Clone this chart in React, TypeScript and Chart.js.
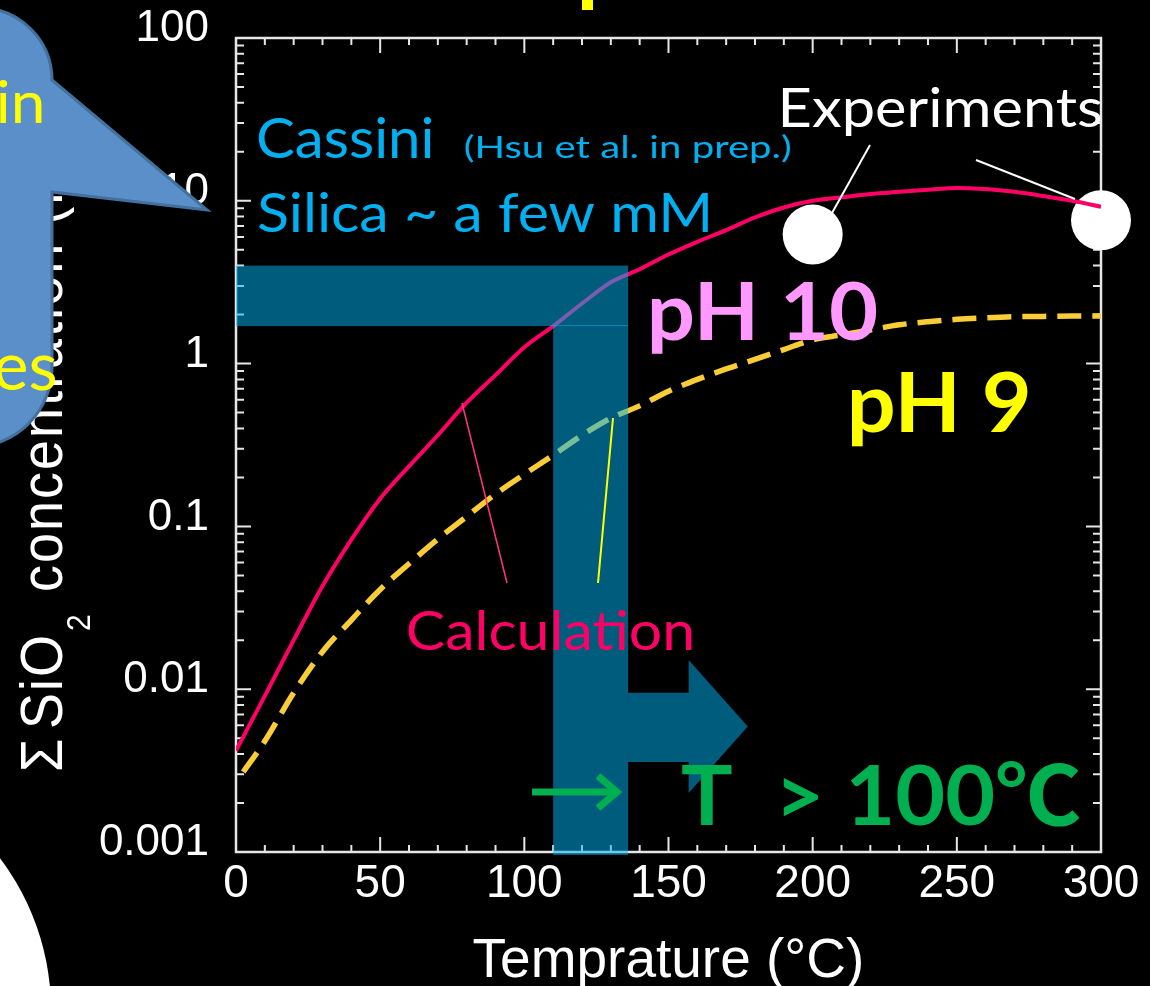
import React, { useEffect, useRef } from 'react';
import { Chart, registerables } from 'chart.js';

Chart.register(...registerables);

// ---------- data ----------
const calcTemps = [0, 10, 20, 30, 40, 50, 60, 70, 80, 90, 100, 110, 120, 130, 140, 150, 160, 170, 180, 190, 200, 210, 220, 230, 240, 250, 260, 270, 280, 290, 300];
const ph10Values = [0.0042, 0.0091, 0.020, 0.043, 0.083, 0.148, 0.234, 0.363, 0.575, 0.85, 1.26, 1.70, 2.34, 3.16, 3.80, 4.68, 5.6, 6.6, 7.9, 9.1, 10.0, 10.5, 11.0, 11.35, 11.7, 12.0, 11.8, 11.35, 10.7, 10.0, 9.2];
const ph9Temps = [2.5, 10, 20, 30, 40, 50, 60, 70, 80, 90, 100, 110, 120, 130, 140, 150, 160, 170, 180, 190, 200, 210, 220, 230, 240, 250, 260, 270, 280, 290, 300];
const ph9Values = [0.0031, 0.0048, 0.0095, 0.017, 0.0266, 0.041, 0.059, 0.0836, 0.115, 0.158, 0.209, 0.274, 0.363, 0.462, 0.55, 0.676, 0.80, 0.927, 1.06, 1.22, 1.40, 1.50, 1.61, 1.73, 1.81, 1.87, 1.91, 1.94, 1.95, 1.96, 1.96];
const expTemps = [200, 300];
const expValues = [6.2, 7.6];

const xTickValues = [0, 50, 100, 150, 200, 250, 300];
const xTickLabels = ['0', '50', '100', '150', '200', '250', '300'];
const yTickValues = [0.001, 0.01, 0.1, 1, 10, 100];
const yTickLabels = ['0.001', '0.01', '0.1', '1', '10', '100'];

const xTitle = 'Temprature (°C)';
const yTitleParts = ['Σ', 'SiO', '2', 'concentration (mM)'];

// Cassini silica range (mM) and the matching temperature range (°C)
const cassiniRange = [1.7, 4.0];
const tempRange = [110, 136];
// block arrow (data units): body end T, tip T, body y-range, head y-range
const arrowBodyEndT = 157;
const arrowTipT = 177.5;
const arrowBodyY = [0.0095, 0.00357];
const arrowHeadY = [0.0151, 0.0023];

const SANS = "'Liberation Sans', Arial, sans-serif";
const CAL = "Lato, 'Noto Sans CJK JP', sans-serif";

function drawFit(ctx: CanvasRenderingContext2D, text: string, left: number, baseline: number, inkWidth: number, capH: number, weight: string, family: string, color: string) {
  ctx.save();
  ctx.font = `${weight} 100px ${family}`;
  const capRatio = ctx.measureText('H').actualBoundingBoxAscent / 100;
  const size = capH / capRatio;
  ctx.font = `${weight} ${size}px ${family}`;
  ctx.textAlign = 'left';
  ctx.textBaseline = 'alphabetic';
  const m = ctx.measureText(text);
  const ink = m.actualBoundingBoxLeft + m.actualBoundingBoxRight;
  const sx = inkWidth / ink;
  ctx.translate(left, baseline);
  ctx.scale(sx, 1);
  ctx.fillStyle = color;
  ctx.fillText(text, m.actualBoundingBoxLeft, 0);
  ctx.restore();
}

const decor = {
  id: 'decor',
  beforeDraw(chart: any) {
    const ctx = chart.ctx;
    ctx.save();
    ctx.fillStyle = '#000000';
    ctx.fillRect(0, 0, chart.width, chart.height);
    ctx.restore();
  },
  beforeDatasetsDraw(chart: any) {
    const ctx: CanvasRenderingContext2D = chart.ctx;
    const { left, right, top, bottom } = chart.chartArea;
    const xs = chart.scales.x;
    const ys = chart.scales.y;
    ctx.save();
    ctx.strokeStyle = '#E6E6E6';
    ctx.lineWidth = 2.5;
    ctx.strokeRect(left, top, right - left, bottom - top);
    ctx.lineWidth = 2;
    ctx.beginPath();
    for (let t = 0; t <= 300; t += 10) {
      const px = xs.getPixelForValue(t);
      const len = t % 50 === 0 ? 15 : 7;
      ctx.moveTo(px, bottom); ctx.lineTo(px, bottom - len);
      ctx.moveTo(px, top); ctx.lineTo(px, top + len);
    }
    for (let k = -3; k <= 2; k++) {
      for (let m = 1; m <= 9; m++) {
        const v = m * Math.pow(10, k);
        if (v > 100.0001) break;
        const py = ys.getPixelForValue(v);
        const len = m === 1 ? 15 : 8;
        ctx.moveTo(left, py); ctx.lineTo(left + len, py);
        ctx.moveTo(right, py); ctx.lineTo(right - len, py);
      }
    }
    ctx.stroke();
    ctx.restore();
  },
  afterDraw(chart: any) {
    const ctx: CanvasRenderingContext2D = chart.ctx;
    const xs = chart.scales.x;
    const ys = chart.scales.y;
    const { left, bottom } = chart.chartArea;

    // ---- y axis title (rotated) ----
    ctx.save();
    ctx.translate(62, 0);
    ctx.rotate(-Math.PI / 2);
    ctx.scale(1, 1.11);
    ctx.fillStyle = '#FFFFFF';
    ctx.textAlign = 'left';
    ctx.textBaseline = 'alphabetic';
    (ctx as any).letterSpacing = '2px';
    const starts = [770, 727, 630, 590];
    yTitleParts.forEach((p, i) => {
      const sub = i === 2;
      ctx.font = sub ? `30px ${SANS}` : `54px ${SANS}`;
      const m = ctx.measureText(p);
      ctx.fillText(p, -starts[i] + m.actualBoundingBoxLeft, sub ? 25 : 0);
    });
    ctx.restore();

    // ---- Cassini band ----
    const band = 'rgba(0,176,240,0.52)';
    const yHi = ys.getPixelForValue(cassiniRange[1]);
    const yLo = ys.getPixelForValue(cassiniRange[0]);
    const xLo = xs.getPixelForValue(tempRange[0]);
    const xHi = xs.getPixelForValue(tempRange[1]);
    ctx.save();
    ctx.fillStyle = band;
    ctx.fillRect(left, yHi, xHi - left, yLo - yHi);
    ctx.fillRect(xLo, yLo - 1, xHi - xLo, bottom + 3 - (yLo - 1));
    // block arrow
    const bx1 = xHi;
    const bx2 = xs.getPixelForValue(arrowBodyEndT);
    const tip = xs.getPixelForValue(arrowTipT);
    const by1 = ys.getPixelForValue(arrowBodyY[0]);
    const by2 = ys.getPixelForValue(arrowBodyY[1]);
    const hy1 = ys.getPixelForValue(arrowHeadY[0]);
    const hy2 = ys.getPixelForValue(arrowHeadY[1]);
    ctx.beginPath();
    ctx.moveTo(bx1, by1);
    ctx.lineTo(bx2, by1);
    ctx.lineTo(bx2, hy1);
    ctx.lineTo(tip, (hy1 + hy2) / 2);
    ctx.lineTo(bx2, hy2);
    ctx.lineTo(bx2, by2);
    ctx.lineTo(bx1, by2);
    ctx.closePath();
    ctx.fill();
    ctx.restore();

    // ---- green arrow ----
    ctx.save();
    ctx.strokeStyle = '#00B050';
    ctx.lineWidth = 7;
    ctx.beginPath();
    ctx.moveTo(532, 792); ctx.lineTo(614, 792);
    ctx.stroke();
    ctx.beginPath();
    ctx.moveTo(598, 776); ctx.lineTo(617, 792); ctx.lineTo(598, 808);
    ctx.stroke();
    ctx.restore();

    // ---- leader lines ----
    ctx.save();
    ctx.lineWidth = 1.6;
    ctx.strokeStyle = '#FF3377';
    ctx.beginPath(); ctx.moveTo(462, 403); ctx.lineTo(507, 583); ctx.stroke();
    ctx.lineWidth = 2;
    ctx.strokeStyle = '#FFFF00';
    ctx.beginPath(); ctx.moveTo(613, 418); ctx.lineTo(598, 583); ctx.stroke();
    ctx.strokeStyle = '#FFFFFF';
    ctx.lineWidth = 2;
    ctx.beginPath(); ctx.moveTo(870, 145); ctx.lineTo(832, 213); ctx.stroke();
    ctx.beginPath(); ctx.moveTo(976, 160); ctx.lineTo(1075, 199); ctx.stroke();
    ctx.restore();

    // ---- annotation texts ----
    drawFit(ctx, 'Cassini', 258, 158, 174, 41, 'normal', CAL, '#00B0F0');
    drawFit(ctx, '(Hsu et al. in prep.)', 465, 158, 325, 23, 'normal', CAL, '#00B0F0');
    drawFit(ctx, 'Silica ~ a few mM', 258, 232, 450, 40, 'normal', CAL, '#00B0F0');
    drawFit(ctx, 'Experiments', 783, 127, 318, 40, 'normal', CAL, '#FFFFFF');
    drawFit(ctx, 'pH 10', 651, 340, 226, 58, 'bold', CAL, '#FF99FF');
    drawFit(ctx, 'pH 9', 852, 432, 176, 60, 'bold', CAL, '#FFFF00');
    drawFit(ctx, 'Calculation', 408, 650, 284, 39, 'normal', CAL, '#FF0066');
    drawFit(ctx, 'T  > 100℃', 682, 825, 398, 60, 'bold', CAL, '#00B050');

    // ---- speech bubble ----
    ctx.save();
    ctx.beginPath();
    ctx.moveTo(-40, 8);
    ctx.lineTo(-20, 8);
    ctx.arc(-20, 80, 72, -Math.PI / 2, 0);
    ctx.lineTo(207, 210);
    ctx.lineTo(52, 192);
    ctx.lineTo(52, 367);
    ctx.arc(-28, 367, 80, 0, Math.PI / 2);
    ctx.lineTo(-40, 447);
    ctx.closePath();
    ctx.fillStyle = '#5B8FC9';
    ctx.fill();
    ctx.strokeStyle = '#41719C';
    ctx.lineWidth = 3;
    ctx.stroke();
    ctx.restore();
    drawFit(ctx, 'in', -1, 123, 43, 42, 'normal', CAL, '#FFFF00');
    drawFit(ctx, 'es', -5, 390, 60, 50, 'normal', CAL, '#FFFF00');

    // ---- white shape bottom-left ----
    ctx.save();
    ctx.fillStyle = '#FFFFFF';
    ctx.beginPath();
    ctx.arc(-200, 1010, 251, 0, Math.PI * 2);
    ctx.fill();
    // title fragment at top
    ctx.fillStyle = '#FFFF00';
    ctx.fillRect(582, 0, 11, 10);
    ctx.restore();
  },
};

export default function App() {
  const ref = useRef<HTMLCanvasElement | null>(null);
  useEffect(() => {
    document.body.style.margin = '0';
    document.body.style.background = '#000';
    document.body.style.overflow = 'hidden';
    const canvas = ref.current;
    if (!canvas) return;
    const chart = new Chart(canvas, {
      type: 'line',
      data: {
        datasets: [
          {
            label: 'pH 10',
            data: calcTemps.map((t, i) => ({ x: t, y: ph10Values[i] })),
            borderColor: '#FF0066',
            borderWidth: 4,
            pointRadius: 0,
            cubicInterpolationMode: 'monotone',
            fill: false,
          },
          {
            label: 'pH 9',
            data: ph9Temps.map((t, i) => ({ x: t, y: ph9Values[i] })),
            borderColor: '#FACD37',
            borderWidth: 5.5,
            borderDash: [24, 11],
            pointRadius: 0,
            cubicInterpolationMode: 'monotone',
            fill: false,
          },
          {
            label: 'Experiments',
            type: 'scatter',
            data: expTemps.map((t, i) => ({ x: t, y: expValues[i] })),
            pointRadius: 30,
            pointBackgroundColor: '#FFFFFF',
            pointBorderWidth: 0,
            borderColor: '#FFFFFF',
            showLine: false,
            clip: false,
          } as any,
        ],
      },
      options: {
        responsive: false,
        animation: false,
        devicePixelRatio: 1,
        layout: { padding: { left: 0, top: 38, right: 49, bottom: 0 } },
        plugins: { legend: { display: false }, tooltip: { enabled: false } },
        scales: {
          x: {
            type: 'linear',
            min: 0,
            max: 300,
            afterBuildTicks: (s: any) => { s.ticks = xTickValues.map((v) => ({ value: v })); },
            afterFit: (s: any) => { s.height = 134; s.paddingLeft = 0; s.paddingRight = 0; },
            ticks: {
              callback: (_v: any, i: number) => xTickLabels[i],
              color: '#FFFFFF',
              font: { size: 46, family: SANS },
              padding: 5,
              maxRotation: 0,
              autoSkip: false,
            },
            grid: { display: false, drawTicks: false },
            border: { display: false },
            title: {
              display: true,
              text: xTitle,
              color: '#FFFFFF',
              font: { size: 55, family: SANS, lineHeight: 1 },
              padding: { top: 0, bottom: -3 },
            },
          },
          y: {
            type: 'logarithmic',
            min: 0.001,
            max: 100,
            afterBuildTicks: (s: any) => { s.ticks = yTickValues.map((v) => ({ value: v })); },
            afterFit: (s: any) => { s.width = 236; s.paddingTop = 0; s.paddingBottom = 0; },
            ticks: {
              callback: (_v: any, i: number) => yTickLabels[i],
              color: '#FFFFFF',
              font: { size: 44, family: SANS },
              padding: 27,
              labelOffset: -9,
              autoSkip: false,
            },
            grid: { display: false, drawTicks: false },
            border: { display: false },
          },
        },
      } as any,
      plugins: [decor],
    });
    return () => chart.destroy();
  }, []);
  return (
    <div style={{ position: 'absolute', left: 0, top: 0, width: 1150, height: 986, background: '#000' }}>
      <canvas ref={ref} width={1150} height={986} style={{ width: 1150, height: 986, display: 'block' }} />
    </div>
  );
}
